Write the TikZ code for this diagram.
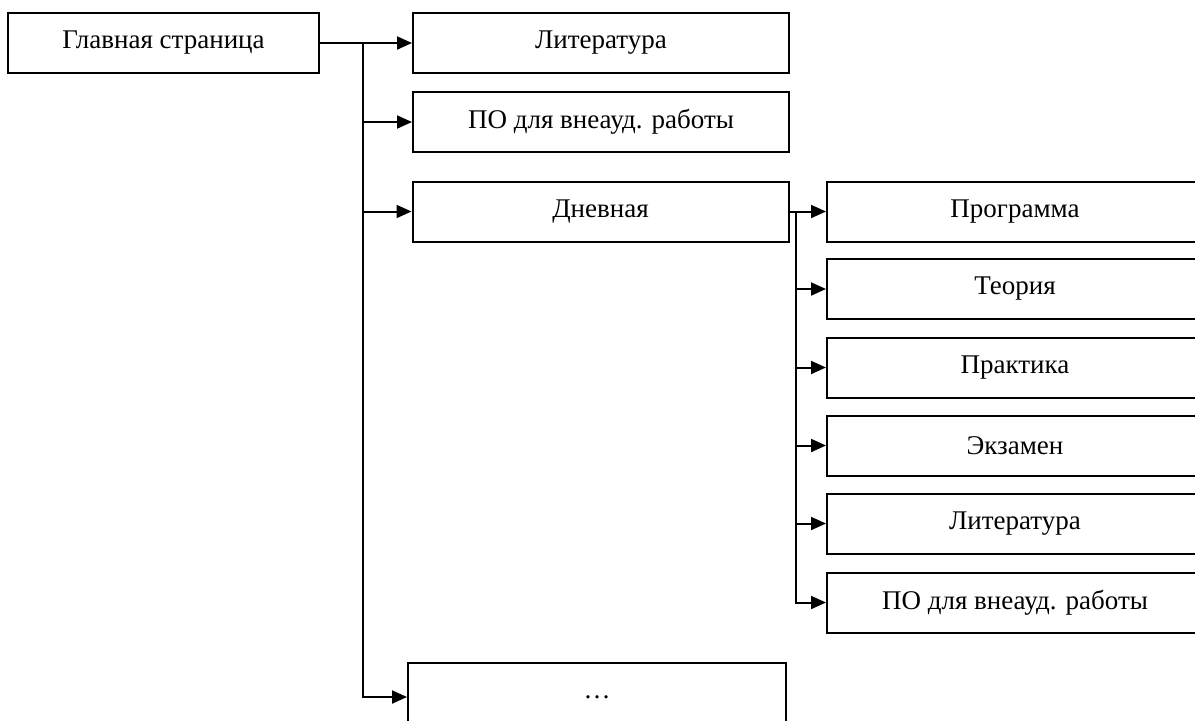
\documentclass[tikz,border=0pt]{standalone}
\usepackage{fontspec}
\setmainfont{Liberation Serif}
\usepackage{tikz}
\usetikzlibrary{arrows.meta,positioning}

\tikzset{
  blk/.style={draw, line width=1pt, minimum width=188pt, minimum height=30pt, inner sep=0pt,
    font=\fontsize{13.5}{16}\selectfont},
  arr/.style={-{Triangle[length=7.5pt,width=6.5pt]}, line width=1pt},
  ln/.style={line width=1pt}
}

\begin{document}
\begin{tikzpicture}[x=0.5pt, y=-0.5pt]
    \useasboundingbox (0,0) rectangle (1195,720);
    \clip (0,0) rectangle (1195,720);
    % first level
    \node[blk, minimum width=155.5pt] (main) at (163.5,43) {Главная страница};
    \node[blk] (lit) at (601,43) {Литература};
    \node[blk] (po) at (601,122) {ПО для внеауд. работы};
    \node[blk] (day) at (600.5,211.5) {Дневная};
    \node[blk, minimum width=189pt, minimum height=34pt] (dots) at (597,697) {…};
    % second level
    \node[blk] (prog) at (1015,211.5) {Программа};
    \node[blk] (theory) at (1015,289) {Теория};
    \node[blk] (pract) at (1015,367.5) {Практика};
    \node[blk] (exam) at (1015,445.5) {Экзамен};
    \node[blk] (lit2) at (1015,523.5) {Литература};
    \node[blk] (po2) at (1015,602.5) {ПО для внеауд. работы};
    \coordinate (trunk) at (363,0);
    \coordinate (sub) at (796,0);
    % connectors
    \draw[arr] (main.east) -- (lit.west);
    \draw[arr] (main.east -| trunk) |- (dots.west);
    \draw[arr] (po.west -| trunk) -- (po.west);
    \draw[arr] (day.west -| trunk) -- (day.west);
    \draw[arr] (day.east) -- (prog.west);
    \draw[arr] (day.east -| sub) |- (po2.west);
    \draw[arr] (theory.west -| sub) -- (theory.west);
    \draw[arr] (pract.west -| sub) -- (pract.west);
    \draw[arr] (exam.west -| sub) -- (exam.west);
    \draw[arr] (lit2.west -| sub) -- (lit2.west);
\end{tikzpicture}
\end{document}
